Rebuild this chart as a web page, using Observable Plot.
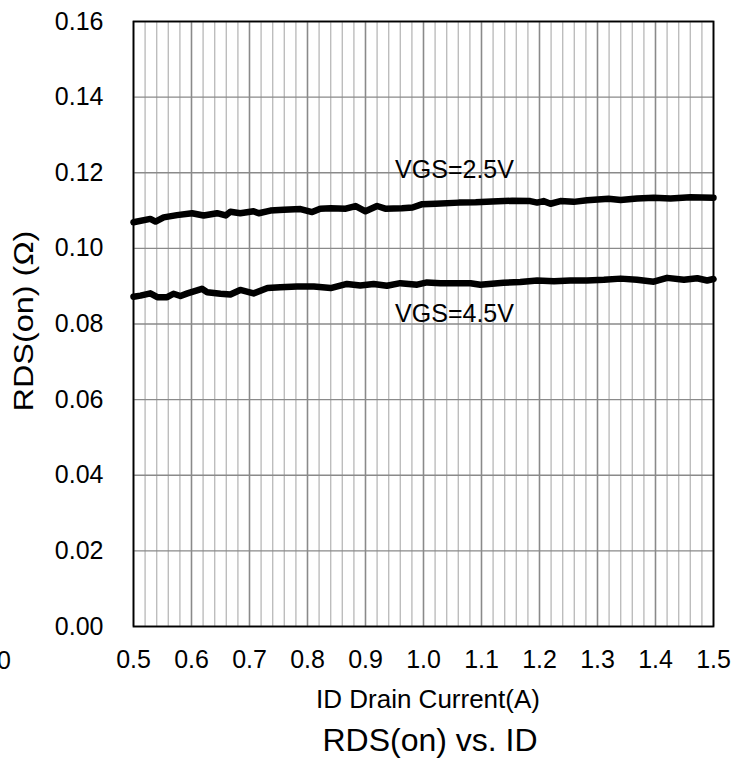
<!DOCTYPE html>
<html><head><meta charset="utf-8">
<script src="https://cdn.jsdelivr.net/npm/d3@7"></script>
<script src="https://cdn.jsdelivr.net/npm/@observablehq/plot@0.6"></script>
<style>
html,body{margin:0;padding:0;background:#fff;overflow:hidden}
#wrap{position:relative;width:744px;height:758px;font-family:"Liberation Sans",Arial,sans-serif;color:#000}
.t{position:absolute;white-space:nowrap;line-height:1}
</style></head><body>
<div id="wrap"><div id="chart"></div></div>
<script>
// ID drain current (A) and RDS(on) (Ω)
const id25 = [0.500,0.529,0.538,0.552,0.575,0.601,0.621,0.644,0.659,0.667,0.684,0.707,0.716,0.736,0.759,0.788,0.808,0.822,0.840,0.866,0.883,0.900,0.920,0.934,0.963,0.981,0.998,1.021,1.061,1.090,1.118,1.153,1.184,1.196,1.207,1.219,1.236,1.259,1.282,1.319,1.340,1.368,1.397,1.426,1.460,1.500];
const rds25 = [0.1069,0.1078,0.1071,0.1082,0.1088,0.1093,0.1087,0.1093,0.1087,0.1097,0.1093,0.1098,0.1093,0.1100,0.1102,0.1104,0.1096,0.1105,0.1106,0.1105,0.1112,0.1098,0.1112,0.1105,0.1106,0.1108,0.1117,0.1118,0.1121,0.1122,0.1124,0.1126,0.1125,0.1121,0.1125,0.1118,0.1125,0.1123,0.1127,0.1131,0.1128,0.1132,0.1134,0.1132,0.1135,0.1134];
const id45 = [0.500,0.512,0.529,0.541,0.558,0.569,0.581,0.593,0.618,0.627,0.650,0.667,0.684,0.707,0.731,0.753,0.782,0.811,0.840,0.868,0.891,0.914,0.937,0.960,0.989,1.006,1.029,1.081,1.098,1.138,1.167,1.196,1.225,1.253,1.282,1.311,1.340,1.368,1.397,1.420,1.449,1.472,1.489,1.500];
const rds45 = [0.0872,0.0875,0.0881,0.0871,0.0871,0.0880,0.0874,0.0881,0.0893,0.0884,0.0880,0.0878,0.0890,0.0881,0.0895,0.0897,0.0899,0.0899,0.0895,0.0906,0.0902,0.0906,0.0901,0.0908,0.0904,0.0910,0.0908,0.0908,0.0904,0.0909,0.0911,0.0915,0.0913,0.0915,0.0915,0.0917,0.0920,0.0917,0.0912,0.0922,0.0917,0.0921,0.0915,0.0919];
const xTicks = [0.5,0.6,0.7,0.8,0.9,1.0,1.1,1.2,1.3,1.4,1.5];
const yTicks = [0,0.02,0.04,0.06,0.08,0.10,0.12,0.14,0.16];
const seriesLabels = ["VGS=2.5V","VGS=4.5V"];
const labelX = [0.951,0.951];
const labelY = [0.1185,0.0804];

const minorX = d3.range(0, 51).map(i => 0.5 + i * 0.02);

const chart = Plot.plot({
  width: 744, height: 680,
  marginLeft: 133, marginRight: 31, marginTop: 21, marginBottom: 54,
  style: {fontFamily: "'Liberation Sans', Arial, sans-serif", fontSize: "25px", color: "#000", background: "#fff"},
  x: {domain: [0.5, 1.5]},
  y: {domain: [0, 0.16]},
  marks: [
    Plot.ruleX(minorX, {stroke: "#bdbdbd", strokeWidth: 1.4}),
    Plot.ruleX(xTicks, {stroke: "#8a8a8a", strokeWidth: 1.4}),
    Plot.ruleY(yTicks, {stroke: "#8a8a8a", strokeWidth: 1.4}),
    Plot.axisX({ticks: xTicks, tickSize: 0, tickPadding: 24, tickFormat: d => d.toFixed(1), label: null}),
    Plot.axisY({ticks: yTicks, tickSize: 0, tickPadding: 30, tickFormat: d => d.toFixed(2), label: null}),
    Plot.line(id25, {x: id25, y: rds25, stroke: "#000", strokeWidth: 6.5, strokeLinejoin: "round", strokeLinecap: "round"}),
    Plot.line(id45, {x: id45, y: rds45, stroke: "#000", strokeWidth: 6.5, strokeLinejoin: "round", strokeLinecap: "round"}),
    Plot.text(seriesLabels, {x: labelX, y: labelY, text: seriesLabels, textAnchor: "start", lineAnchor: "bottom", fontSize: 25, fill: "#000"}),
    Plot.frame({stroke: "#000", strokeWidth: 1.8})
  ]
});
document.getElementById("chart").appendChild(chart);

const wrap = document.getElementById("wrap");
function addText(txt, css) {
  const d = document.createElement("div");
  d.className = "t";
  d.textContent = txt;
  Object.assign(d.style, css);
  wrap.appendChild(d);
}
addText("ID Drain Current(A)", {left: "428px", top: "686px", fontSize: "26px", transform: "translateX(-50%)"});
addText("RDS(on) vs. ID", {left: "430px", top: "724px", fontSize: "32px", transform: "translateX(-50%)"});
addText("RDS(on) (Ω)", {left: "24px", top: "321px", fontSize: "27px", transform: "translate(-50%,-50%) rotate(-90deg) scaleX(1.2)"});
addText("0", {left: "-3px", top: "648px", fontSize: "25px"});
</script>
</body></html>
